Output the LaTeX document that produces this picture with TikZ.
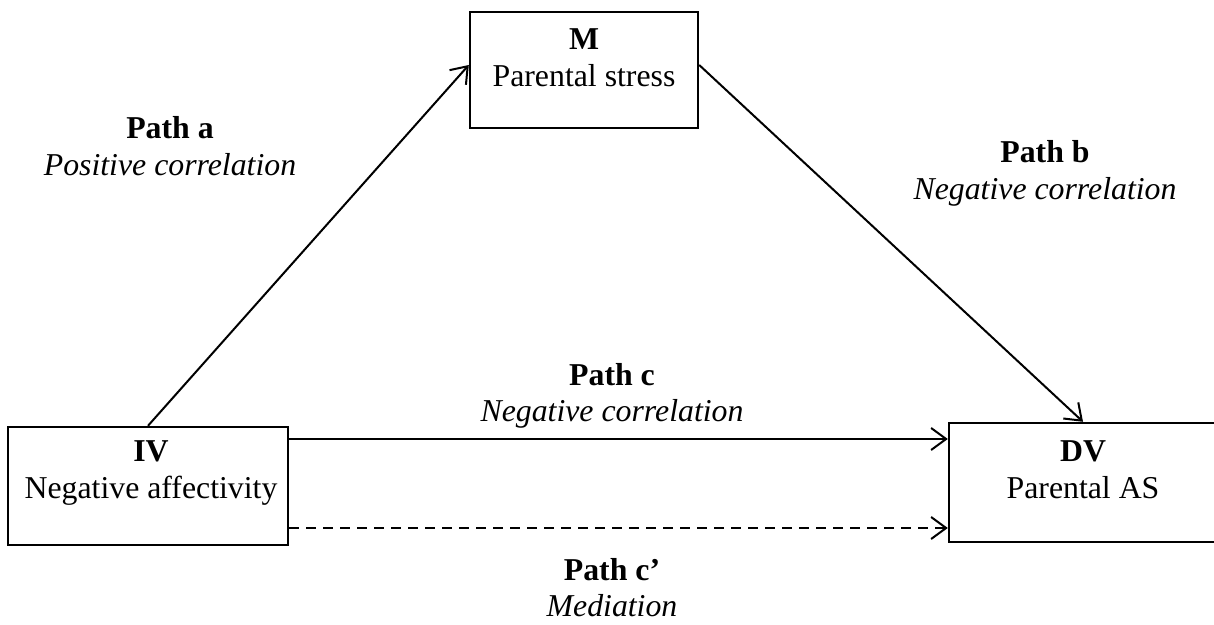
\documentclass[tikz,border=0pt]{standalone}
\usepackage{fontspec}
\setmainfont{Liberation Serif}
\usetikzlibrary{arrows.meta}
\begin{document}
\begin{tikzpicture}[x=0.5pt,y=-0.5pt,
  every node/.style={font=\fontsize{15.9}{18.5}\selectfont, inner sep=0pt},
  varbox/.style={draw, line width=1.2pt, rectangle},
  lbl/.style={anchor=base},
  conn/.style={line width=1pt, -{Straight Barb[length=7.5pt,width=11pt,line width=1pt]}},
  dashconn/.style={conn, dash pattern=on 5pt off 3.5pt}]
\useasboundingbox (0,0) rectangle (1214,625);
% boxes
\node[varbox, minimum width=114pt, minimum height=58pt] (M) at (584,70) {};
\node[varbox, minimum width=140pt, minimum height=59pt] (IV) at (148,486) {};
\node[varbox, minimum width=134pt, minimum height=59.5pt] (DV) at (1083,482.5) {};
% box texts
\node[lbl] (Mt1) at (584,50) {\textbf{M}};
\node[lbl] (Mt2) at (584,87) {Parental stress};
\node[lbl] (IVt1) at (151,461) {\textbf{IV}};
\node[lbl] (IVt2) at (151,498) {Negative affectivity};
\node[lbl] (DVt1) at (1083,461) {\textbf{DV}};
\node[lbl] (DVt2) at (1083,498) {Parental AS};
% path labels
\node[lbl] (pa1) at (170,139) {\textbf{Path a}};
\node[lbl] (pa2) at (170,176) {\textit{Positive correlation}};
\node[lbl] (pb1) at (1045,163) {\textbf{Path b}};
\node[lbl] (pb2) at (1045,200) {\textit{Negative correlation}};
\node[lbl] (pc1) at (612,386) {\textbf{Path c}};
\node[lbl] (pc2) at (612,421) {\textit{Negative correlation}};
\node[lbl] (pd1) at (612,580) {\textbf{Path c’}};
\node[lbl] (pd2) at (612,616) {\textit{Mediation}};
% connectors
\draw[conn] (IV.north) -- ([yshift=2.5pt]M.west);
\draw[conn] ([yshift=2.5pt]M.east) -- (DV.north);
\draw[conn] ([yshift=23.5pt]IV.east) -- ([yshift=23.5pt]IV.east -| DV.west);
\draw[dashconn] ([yshift=-21pt]IV.east) -- ([yshift=-21pt]IV.east -| DV.west);
\end{tikzpicture}
\end{document}
